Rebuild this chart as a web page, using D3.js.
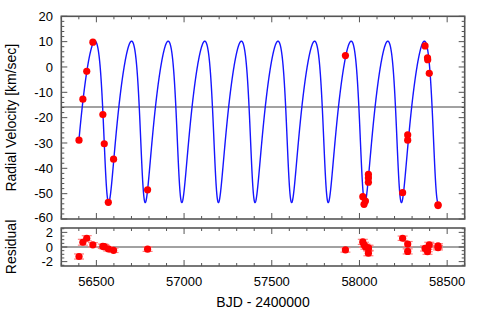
<!DOCTYPE html>
<html><head><meta charset="utf-8">
<script src="https://cdn.jsdelivr.net/npm/d3@7"></script>
<style>body{margin:0;background:#fff}svg{display:block}text{font-family:"Liberation Sans",Arial,sans-serif;fill:#000}</style>
</head><body>
<svg id="c" width="491" height="312"></svg>
<script>
// observation epochs (BJD - 2400000)
const times = [56401,56423,56445,56480,56537,56545,56568,56598,56792,
  57920,58019,58026,58034,58051,58051,58051,58246,58275,58275,58374,58388,58389,58398,58448,58448];
// radial velocities km/s
const rvs = [-28.9,-12.7,-1.7,9.8,-18.8,-30.3,-53.4,-36.4,-48.5,
  4.5,-51.2,-54.2,-52.9,-42.4,-43.8,-45.5,-49.6,-26.8,-28.9,8.3,3.6,2.9,-2.5,-54.4,-54.7];
// residuals km/s
const resid = [-1.3,0.65,1.2,0.3,0.1,0.05,-0.25,-0.45,-0.3,
  -0.4,0.7,0.3,0.05,-0.1,-0.85,-0.2,1.2,0.4,-0.6,-0.2,-0.65,-0.3,0.3,0.15,-0.1];
const resErr = [0.35,0.4,0.35,0.3,0.3,0.3,0.3,0.3,0.3,
  0.3,0.35,0.35,0.35,0.35,0.35,0.35,0.3,0.35,0.35,0.35,0.35,0.35,0.35,0.3,0.3];
// orbital solution: P, Tperi, e, omega(deg), K, gamma
const orbit = {P:208.7, T0:56554, e:0.27, omega:133, K:31.85, gamma:-15.8};
const modelRange = [56400, 58450];
const xTicks = [56500,57000,57500,58000,58500];
const yTicks = [-60,-50,-40,-30,-20,-10,0,10,20];
const rTicks = [-2,0,2];

const svg = d3.select("#c");
const L=61.3, R=464.7, T1=16.3, B1=219, T2=228, B2=266;
const x = d3.scaleLinear().domain([56300,58600]).range([L,R]);
const y = d3.scaleLinear().domain([-60,20]).range([B1,T1]);
const yr = d3.scaleLinear().domain([-2.6,2.6]).range([B2,T2]);

function rvModel(t){
  const {P,T0,e,omega,K,gamma}=orbit;
  let M = 2*Math.PI*((t-T0)/P);
  let E=M; for(let i=0;i<30;i++){E = E - (E - e*Math.sin(E) - M)/(1-e*Math.cos(E));}
  const nu = 2*Math.atan2(Math.sqrt(1+e)*Math.sin(E/2), Math.sqrt(1-e)*Math.cos(E/2));
  const w = omega*Math.PI/180;
  return K*(Math.cos(nu+w)+e*Math.cos(w))+gamma;
}
const modelT = d3.range(modelRange[0], modelRange[1]+0.5, 0.5);

const frameCol="#555";
function ticksPanel(ys, top, bot, yMinor, yMajor){
  const g=svg.append("g").attr("stroke",frameCol).attr("stroke-width",1);
  d3.range(56300,58601,100).forEach(v=>{
    const len = v%500===0?6:3;
    g.append("line").attr("x1",x(v)).attr("x2",x(v)).attr("y1",bot).attr("y2",bot-len);
    g.append("line").attr("x1",x(v)).attr("x2",x(v)).attr("y1",top).attr("y2",top+len);
  });
  yMinor.forEach(v=>{
    const len = yMajor.includes(v)?6:3;
    g.append("line").attr("x1",L).attr("x2",L+len).attr("y1",ys(v)).attr("y2",ys(v));
    g.append("line").attr("x1",R).attr("x2",R-len).attr("y1",ys(v)).attr("y2",ys(v));
  });
}
ticksPanel(y,T1,B1,d3.range(-60,20.1,2),yTicks);
ticksPanel(yr,T2,B2,[-2.5,-2,-1.5,-1,-0.5,0,0.5,1,1.5,2,2.5],rTicks);

// systemic velocity & zero lines
svg.append("line").attr("x1",L).attr("x2",R).attr("y1",y(orbit.gamma)).attr("y2",y(orbit.gamma)).attr("stroke","#444").attr("stroke-width",1);
svg.append("line").attr("x1",L).attr("x2",R).attr("y1",yr(0)).attr("y2",yr(0)).attr("stroke","#444").attr("stroke-width",1);

// model
svg.append("path").datum(modelT)
  .attr("d",d3.line().x(d=>x(d)).y(d=>y(rvModel(d))))
  .attr("fill","none").attr("stroke","#1515ff").attr("stroke-width",1.4);

// RV points
svg.append("g").selectAll("circle").data(times).join("circle")
  .attr("cx",(d)=>x(d)).attr("cy",(d,i)=>y(rvs[i])).attr("r",3.6).attr("fill","#ff0000");

// residual error bars
const eb = svg.append("g").attr("stroke","#ff8080").attr("stroke-width",1.2);
times.forEach((t,i)=>{
  const cx=x(t), y1=yr(resid[i]+resErr[i]), y2=yr(resid[i]-resErr[i]);
  eb.append("line").attr("x1",cx).attr("x2",cx).attr("y1",y1).attr("y2",y2);
  eb.append("line").attr("x1",cx-5).attr("x2",cx+5).attr("y1",y1).attr("y2",y1);
  eb.append("line").attr("x1",cx-5).attr("x2",cx+5).attr("y1",y2).attr("y2",y2);
});
svg.append("g").selectAll("circle").data(times).join("circle")
  .attr("cx",(d)=>x(d)).attr("cy",(d,i)=>yr(resid[i])).attr("r",3.6).attr("fill","#ff0000");

// frames
svg.append("rect").attr("x",L).attr("y",T1).attr("width",R-L).attr("height",B1-T1).attr("fill","none").attr("stroke",frameCol).attr("stroke-width",1.6);
svg.append("rect").attr("x",L).attr("y",T2).attr("width",R-L).attr("height",B2-T2).attr("fill","none").attr("stroke",frameCol).attr("stroke-width",1.6);

// tick labels
const fs=13;
svg.append("g").selectAll("text").data(yTicks).join("text")
  .attr("x",53).attr("y",d=>y(d)-(d===-60?1.3:0)).attr("dy","0.35em").attr("text-anchor","end").attr("font-size",fs).text(d=>d);
svg.append("g").selectAll("text").data(rTicks).join("text")
  .attr("x",53).attr("y",d=>yr(d)).attr("dy","0.35em").attr("text-anchor","end").attr("font-size",fs).text(d=>d);
svg.append("g").selectAll("text").data(xTicks).join("text")
  .attr("x",d=>x(d)).attr("y",286).attr("text-anchor","middle").attr("font-size",fs).text(d=>d);

// axis titles
svg.append("text").attr("transform",`translate(16,${(T1+B1)/2}) rotate(-90)`).attr("text-anchor","middle").attr("font-size",14).text("Radial Velocity [km/sec]");
svg.append("text").attr("transform",`translate(16,${(T2+B2)/2}) rotate(-90)`).attr("text-anchor","middle").attr("font-size",14).text("Residual");
svg.append("text").attr("x",(L+R)/2).attr("y",307).attr("text-anchor","middle").attr("font-size",14).text("BJD - 2400000");
</script>
</body></html>
